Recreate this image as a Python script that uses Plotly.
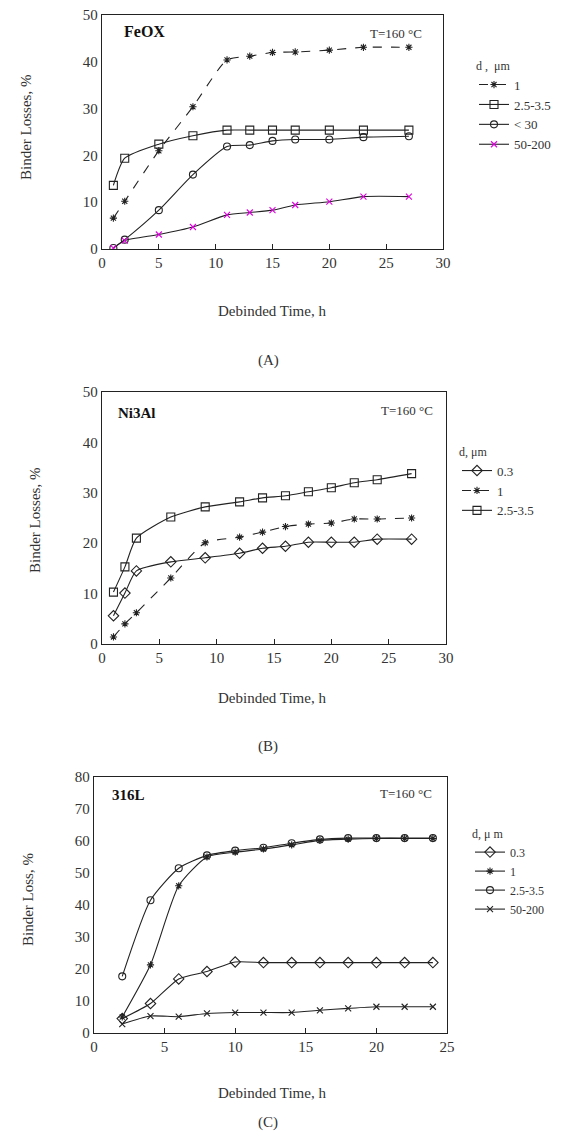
import plotly.graph_objects as go

# ---- data: (A) FeOX ----
a_x_1 = [1, 2, 5, 8, 11, 13, 15, 17, 20, 23, 27]
a_y_1 = [6.6, 10.2, 21.0, 30.4, 40.4, 41.2, 42.0, 42.1, 42.5, 43.1, 43.1]
a_x_25 = [1, 2, 5, 8, 11, 13, 15, 17, 20, 23, 27]
a_y_25 = [13.6, 19.4, 22.4, 24.2, 25.4, 25.4, 25.4, 25.4, 25.4, 25.4, 25.4]
a_x_30 = [1, 2, 5, 8, 11, 13, 15, 17, 20, 23, 27]
a_y_30 = [0.2, 2.0, 8.3, 15.9, 21.9, 22.2, 23.1, 23.4, 23.4, 23.9, 24.1]
a_x_50 = [1, 2, 5, 8, 11, 13, 15, 17, 20, 23, 27]
a_y_50 = [0.2, 1.8, 3.1, 4.7, 7.3, 7.8, 8.3, 9.4, 10.1, 11.2, 11.2]

# ---- data: (B) Ni3Al ----
b_x = [1, 2, 3, 6, 9, 12, 14, 16, 18, 20, 22, 24, 27]
b_y_03 = [5.6, 10.1, 14.5, 16.3, 17.1, 18.0, 19.0, 19.4, 20.2, 20.2, 20.2, 20.8, 20.8]
b_y_1 = [1.4, 4.0, 6.2, 13.1, 20.1, 21.2, 22.2, 23.3, 23.8, 24.0, 24.8, 24.8, 25.0]
b_y_25 = [10.3, 15.3, 21.0, 25.2, 27.2, 28.2, 29.0, 29.4, 30.2, 31.0, 32.0, 32.6, 33.8]

# ---- data: (C) 316L ----
c_x = [2, 4, 6, 8, 10, 12, 14, 16, 18, 20, 22, 24]
c_y_03 = [4.5, 9.2, 16.9, 19.2, 22.2, 22.0, 22.0, 22.0, 22.0, 22.0, 22.0, 22.0]
c_y_1 = [5.0, 21.3, 46.0, 55.0, 56.5, 57.5, 58.8, 60.2, 60.6, 60.8, 60.8, 60.8]
c_y_25 = [17.7, 41.5, 51.5, 55.5, 57.0, 57.9, 59.3, 60.5, 60.9, 60.9, 60.9, 60.9]
c_y_50 = [2.8, 5.3, 5.1, 6.1, 6.4, 6.4, 6.4, 7.1, 7.7, 8.2, 8.2, 8.2]

W, H = 575, 1140
FONT = "Liberation Serif"
INK = "#222222"


def px(x):
    return x / W


def py(y):
    return 1 - y / H


fig = go.Figure()


def add(x, y, name, sym, axis, legend, dash="solid", mcol=INK, size=7):
    fig.add_trace(go.Scatter(
        x=x, y=y, name=name, mode="lines+markers",
        xaxis="x" + axis, yaxis="y" + axis, legend=legend,
        line=dict(color=INK, width=1.1, dash=dash, shape="spline", smoothing=0.6),
        marker=dict(symbol=sym, size=size, color=mcol,
                    line=dict(color=mcol, width=1.1)),
    ))


# panel A
add(a_x_1, a_y_1, "1", "asterisk-open", "", "legend", dash="dash", size=6)
add(a_x_25, a_y_25, "2.5-3.5", "square-open", "", "legend", size=8)
add(a_x_30, a_y_30, "< 30", "circle-open", "", "legend")
add(a_x_50, a_y_50, "50-200", "x-thin-open", "", "legend", mcol="#e000e0", size=6)
# panel B
add(b_x, b_y_03, "0.3", "diamond-open", "2", "legend2", size=8)
add(b_x, b_y_1, "1", "asterisk-open", "2", "legend2", dash="dash", size=6)
add(b_x, b_y_25, "2.5-3.5", "square-open", "2", "legend2", size=8)
# panel C
add(c_x, c_y_03, "0.3", "diamond-open", "3", "legend3", size=8)
add(c_x, c_y_1, "1", "asterisk-open", "3", "legend3", size=6)
add(c_x, c_y_25, "2.5-3.5", "circle-open", "3", "legend3")
add(c_x, c_y_50, "50-200", "x-thin-open", "3", "legend3", size=6)


def xax(x0, x1, rng, dt, anchor):
    return dict(domain=[px(x0), px(x1)], anchor=anchor, range=rng, dtick=dt,
                showline=True, mirror=True, linecolor=INK, linewidth=1.3,
                ticks="inside", ticklen=5, tickcolor=INK, showgrid=False,
                zeroline=False, automargin=False,
                tickfont=dict(family=FONT, size=15, color="#333"))


def yax(y0, y1, rng, dt, anchor):
    return dict(domain=[py(y1), py(y0)], anchor=anchor, range=rng, dtick=dt,
                showline=True, mirror=True, linecolor=INK, linewidth=1.3,
                ticks="", showgrid=False, zeroline=False, automargin=False,
                tickfont=dict(family=FONT, size=15, color="#333"))


def leg(x, y, title, fs):
    return dict(x=px(x), y=py(y), xanchor="left", yanchor="top",
                bgcolor="rgba(0,0,0,0)", tracegroupgap=0,
                title=dict(text=title, side="top", font=dict(family=FONT, size=12, color="#333")),
                font=dict(family=FONT, size=fs, color="#333"), itemwidth=30)


annots = []


def txt(x, y, s, size=14, angle=0, bold=False):
    annots.append(dict(x=px(x), y=py(y), xref="paper", yref="paper", text=s,
                       showarrow=False, textangle=angle, xanchor="center", yanchor="middle",
                       font=dict(family=FONT, size=size, color="#111" if bold else "#333")))


txt(144, 32, "<b>FeOX</b>", 16, bold=True)
txt(396, 34, "T=160 °C", 13)
txt(26, 128, "Binder Losses, %", 15, -90)
txt(272, 311, "Debinded Time, h", 15)
txt(268, 360, "(A)", 15)

txt(137, 413, "<b>Ni3Al</b>", 15, bold=True)
txt(407, 410, "T=160 °C", 13)
txt(35, 521, "Binder Losses, %", 15, -90)
txt(272, 698, "Debinded Time, h", 15)
txt(268, 746, "(B)", 15)

txt(128, 795, "<b>316L</b>", 15, bold=True)
txt(406, 793, "T=160 °C", 13)
txt(28, 900, "Binder Loss, %", 15, -90)
txt(272, 1093, "Debinded Time, h", 15)
txt(268, 1122, "(C)", 15)

fig.update_layout(
    template="none",
    width=W, height=H, margin=dict(l=0, r=0, t=0, b=0, pad=0),
    paper_bgcolor="white", plot_bgcolor="white",
    showlegend=True,
    xaxis=xax(102, 443, [0, 30], 5, "y"), yaxis=yax(15, 249, [0, 50], 10, "x"),
    xaxis2=xax(102, 446, [0, 30], 5, "y2"), yaxis2=yax(392, 644, [0, 50], 10, "x2"),
    xaxis3=xax(94, 447, [0, 25], 5, "y3"), yaxis3=yax(777, 1033, [0, 80], 10, "x3"),
    legend=leg(474, 54, "d ,  μm", 13),
    legend2=leg(457, 440, "d, μm", 13),
    legend3=leg(470, 822, "d, μ m", 12),
    annotations=annots,
)

# drop the page margin so the figure sits at the window's corner
fig.write_html("out.html", config={"displayModeBar": False},
               post_script="document.body.style.margin='0';")
